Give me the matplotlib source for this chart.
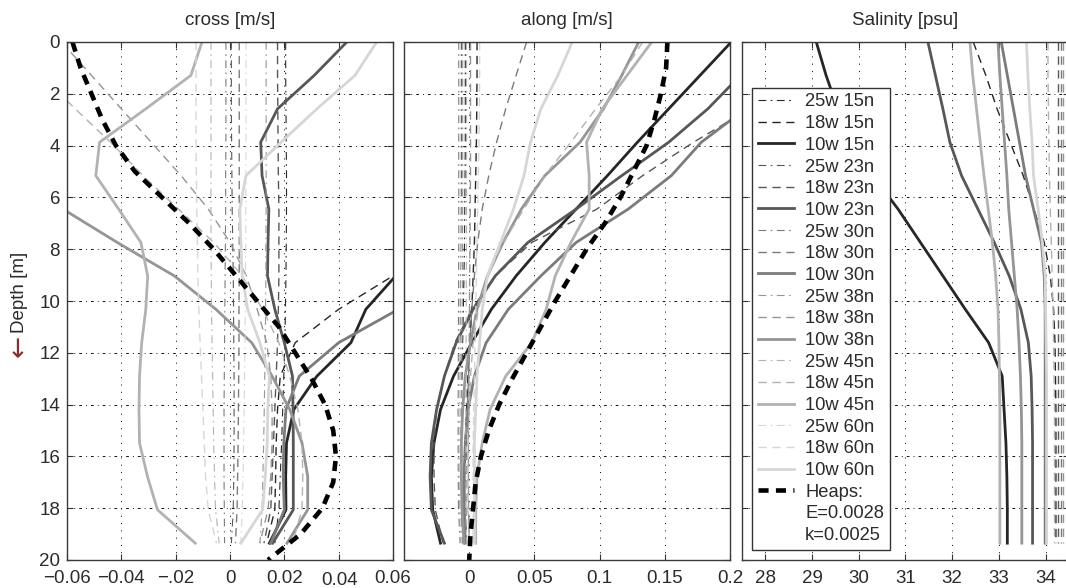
import matplotlib
matplotlib.use("Agg")
import matplotlib.pyplot as plt
from matplotlib.lines import Line2D
from matplotlib.transforms import offset_copy, blended_transform_factory

plt.rcParams['font.family'] = ['Liberation Sans', 'DejaVu Sans']

# ---------------------------------------------------------------- data
# model levels (m) shared by all station profiles
DEPTH = [0.0, 1.29, 2.58, 3.87, 5.16, 6.45, 7.74, 9.03, 10.32, 11.61,
         12.9, 14.19, 15.48, 16.77, 18.06, 19.35]

STATIONS = ["25w 15n", "18w 15n", "10w 15n",
            "25w 23n", "18w 23n", "10w 23n",
            "25w 30n", "18w 30n", "10w 30n",
            "25w 38n", "18w 38n", "10w 38n",
            "25w 45n", "18w 45n", "10w 45n",
            "25w 60n", "18w 60n", "10w 60n"]

# cross-shore velocity [m/s]
CROSS_25W15N = [0.0205, 0.0205, 0.0206, 0.0207, 0.0208, 0.0208, 0.0207, 0.0206, 0.0204, 0.0202, 0.0198, 0.0194, 0.019, 0.0185, 0.018, 0.0165]
CROSS_18W15N = [0.13, 0.12, 0.11, 0.10, 0.09, 0.08, 0.07, 0.060, 0.040, 0.024, 0.0185, 0.0175, 0.017, 0.0168, 0.0165, 0.0135]
CROSS_10W15N = [0.16, 0.15, 0.14, 0.13, 0.12, 0.105, 0.085, 0.061, 0.050, 0.0445, 0.032, 0.0235, 0.0208, 0.0205, 0.0206, 0.0145]
CROSS_25W23N = [0.0005, 0.0005, 0.0005, 0.0006, 0.0007, 0.0008, 0.001, 0.0012, 0.0013, 0.0014, 0.0015, 0.0015, 0.0015, 0.0014, 0.0012, 0.0005]
CROSS_18W23N = [0.0175, 0.0175, 0.0176, 0.0177, 0.0178, 0.018, 0.018, 0.018, 0.0178, 0.0175, 0.017, 0.0165, 0.016, 0.0155, 0.015, 0.0125]
CROSS_10W23N = [0.043, 0.031, 0.0175, 0.0113, 0.0118, 0.0143, 0.014, 0.0138, 0.0165, 0.020, 0.023, 0.0232, 0.0233, 0.0233, 0.0233, 0.0157]
CROSS_25W30N = [-0.0015, -0.0015, -0.0015, -0.0015, -0.0016, -0.0016, -0.0017, -0.0018, -0.0019, -0.002, -0.0021, -0.0022, -0.0022, -0.0022, -0.0021, -0.002]
CROSS_18W30N = [0.0034, 0.0034, 0.0034, 0.0034, 0.0034, 0.0034, 0.0034, 0.0034, 0.0033, 0.0033, 0.0032, 0.0031, 0.003, 0.0028, 0.0026, 0.002]
CROSS_10W30N = [0.20, 0.18, 0.16, 0.14, 0.12, 0.11, 0.095, 0.078, 0.062, 0.040, 0.0255, 0.0206, 0.0198, 0.0196, 0.020, 0.015]
CROSS_25W38N = [0.0133, 0.0133, 0.0133, 0.0133, 0.0133, 0.0133, 0.0132, 0.0132, 0.0131, 0.013, 0.0128, 0.0126, 0.0124, 0.0121, 0.0118, 0.011]
CROSS_18W38N = [-0.062, -0.051, -0.040, -0.029, -0.018, -0.008, 0.0, 0.006, 0.010, 0.0135, 0.015, 0.0155, 0.0155, 0.015, 0.014, 0.011]
CROSS_10W38N = [-0.16, -0.14, -0.12, -0.10, -0.082, -0.0615, -0.0415, -0.0205, -0.0052, 0.008, 0.0155, 0.022, 0.0265, 0.0286, 0.0286, 0.021]
CROSS_25W45N = [-0.007, -0.007, -0.007, -0.007, -0.007, -0.007, -0.007, -0.0069, -0.0068, -0.0066, -0.0064, -0.0062, -0.006, -0.0057, -0.0053, -0.004]
CROSS_18W45N = [-0.082, -0.0695, -0.057, -0.044, -0.032, -0.019, -0.006, 0.0045, 0.012, 0.018, 0.022, 0.025, 0.0265, 0.0268, 0.0265, 0.023]
CROSS_10W45N = [-0.0103, -0.0144, -0.031, -0.048, -0.0494, -0.041, -0.0328, -0.0303, -0.031, -0.0325, -0.0333, -0.0335, -0.0333, -0.0304, -0.0267, -0.0128]
CROSS_25W60N = [0.0059, 0.0059, 0.0059, 0.0059, 0.0059, 0.0058, 0.0058, 0.0057, 0.0056, 0.0055, 0.0054, 0.0052, 0.005, 0.0048, 0.0045, 0.004]
CROSS_18W60N = [-0.0125, -0.0125, -0.0125, -0.0125, -0.0124, -0.0122, -0.012, -0.0118, -0.0115, -0.011, -0.0105, -0.010, -0.0095, -0.009, -0.008, -0.005]
CROSS_10W60N = [0.054, 0.046, 0.032, 0.0188, 0.0059, 0.0036, 0.004, 0.0045, 0.0065, 0.011, 0.0145, 0.0139, 0.0137, 0.013, 0.012, 0.004]

# along-shore velocity [m/s]
ALONG_25W15N = [-0.003, -0.003, -0.003, -0.003, -0.0032, -0.0034, -0.0036, -0.004, -0.0045, -0.005, -0.0055, -0.006, -0.0062, -0.0062, -0.006, -0.005]
ALONG_18W15N = [0.006, 0.006, 0.0058, 0.0055, 0.005, 0.0045, 0.004, 0.003, 0.002, 0.0005, -0.001, -0.002, -0.003, -0.0035, -0.0035, -0.003]
ALONG_10W15N = [0.201, 0.177, 0.153, 0.129, 0.106, 0.082, 0.058, 0.036, 0.017, 0.002, -0.012, -0.022, -0.027, -0.029, -0.028, -0.022]
ALONG_25W23N = [-0.006, -0.006, -0.006, -0.006, -0.006, -0.0062, -0.0064, -0.0066, -0.0068, -0.007, -0.0072, -0.0074, -0.0075, -0.0075, -0.0072, -0.006]
ALONG_18W23N = [0.27, 0.245, 0.215, 0.172, 0.133, 0.098, 0.048, 0.020, 0.002, -0.011, -0.019, -0.025, -0.027, -0.027, -0.026, -0.020]
ALONG_10W23N = [0.235, 0.208, 0.183, 0.153, 0.117, 0.082, 0.045, 0.020, 0.003, -0.010, -0.019, -0.025, -0.029, -0.030, -0.029, -0.019]
ALONG_25W30N = [-0.008, -0.008, -0.008, -0.008, -0.008, -0.008, -0.008, -0.0081, -0.0082, -0.0083, -0.0084, -0.0085, -0.0085, -0.0084, -0.0082, -0.007]
ALONG_18W30N = [0.044, 0.036, 0.028, 0.021, 0.015, 0.010, 0.0065, 0.004, 0.002, 0.0005, -0.0005, -0.0015, -0.002, -0.0025, -0.0025, -0.002]
ALONG_10W30N = [0.29, 0.255, 0.212, 0.178, 0.155, 0.122, 0.082, 0.055, 0.030, 0.013, 0.004, -0.001, -0.003, -0.004, -0.004, -0.003]
ALONG_25W38N = [-0.005, -0.005, -0.005, -0.005, -0.005, -0.005, -0.0051, -0.0052, -0.0054, -0.0056, -0.0058, -0.006, -0.006, -0.006, -0.0058, -0.005]
ALONG_18W38N = [0.001, 0.001, 0.001, 0.001, 0.001, 0.0008, 0.0006, 0.0004, 0.0002, 0.0, -0.0002, -0.0004, -0.0006, -0.0006, -0.0005, 0.0]
ALONG_10W38N = [0.130, 0.117, 0.103, 0.085, 0.058, 0.040, 0.026, 0.014, 0.006, 0.001, -0.003, -0.005, -0.006, -0.006, -0.0055, -0.004]
ALONG_25W45N = [-0.002, -0.002, -0.002, -0.002, -0.002, -0.002, -0.0021, -0.0022, -0.0023, -0.0024, -0.0025, -0.0026, -0.0026, -0.0025, -0.0024, -0.002]
ALONG_18W45N = [0.133, 0.117, 0.097, 0.078, 0.058, 0.042, 0.026, 0.014, 0.007, 0.003, 0.001, 0.0, -0.001, -0.001, -0.001, 0.0]
ALONG_10W45N = [0.140, 0.121, 0.102, 0.090, 0.092, 0.092, 0.078, 0.066, 0.059, 0.048, 0.028, 0.016, 0.010, 0.006, 0.005, 0.005]
ALONG_25W60N = [-0.007, -0.007, -0.007, -0.007, -0.007, -0.007, -0.007, -0.007, -0.0071, -0.0072, -0.0073, -0.0074, -0.0074, -0.0073, -0.0071, -0.006]
ALONG_18W60N = [0.008, 0.008, 0.0078, 0.0075, 0.007, 0.0065, 0.006, 0.0055, 0.005, 0.0045, 0.004, 0.0035, 0.003, 0.003, 0.003, 0.003]
ALONG_10W60N = [0.079, 0.068, 0.055, 0.047, 0.042, 0.034, 0.024, 0.014, 0.010, 0.008, 0.006, 0.005, 0.004, 0.004, 0.004, 0.004]

# salinity [psu]
SAL_25W15N = [34.45, 34.45, 34.45, 34.45, 34.45, 34.45, 34.45, 34.45, 34.45, 34.45, 34.45, 34.45, 34.45, 34.45, 34.45, 34.45]
SAL_18W15N = [32.45, 32.72, 32.96, 33.24, 33.52, 33.75, 33.97, 34.10, 34.17, 34.20, 34.21, 34.22, 34.22, 34.22, 34.22, 34.22]
SAL_10W15N = [29.09, 29.30, 29.55, 29.87, 30.30, 30.84, 31.32, 31.80, 32.28, 32.78, 33.07, 33.11, 33.15, 33.17, 33.18, 33.18]
SAL_25W23N = [34.60, 34.60, 34.60, 34.60, 34.60, 34.60, 34.60, 34.60, 34.60, 34.60, 34.60, 34.60, 34.60, 34.60, 34.60, 34.60]
SAL_18W23N = [34.27, 34.27, 34.27, 34.27, 34.27, 34.27, 34.27, 34.27, 34.27, 34.27, 34.27, 34.27, 34.27, 34.27, 34.27, 34.27]
SAL_10W23N = [31.48, 31.64, 31.80, 31.95, 32.20, 32.55, 32.90, 33.22, 33.47, 33.63, 33.69, 33.71, 33.72, 33.72, 33.72, 33.72]
SAL_25W30N = [34.70, 34.70, 34.70, 34.70, 34.70, 34.70, 34.70, 34.70, 34.70, 34.70, 34.70, 34.70, 34.70, 34.70, 34.70, 34.70]
SAL_18W30N = [34.32, 34.32, 34.32, 34.32, 34.32, 34.32, 34.32, 34.32, 34.32, 34.32, 34.32, 34.32, 34.32, 34.32, 34.32, 34.32]
SAL_10W30N = [33.05, 33.18, 33.31, 33.44, 33.57, 33.74, 33.91, 33.97, 33.99, 33.99, 33.99, 33.99, 33.99, 33.99, 33.99, 33.99]
SAL_25W38N = [34.80, 34.80, 34.80, 34.80, 34.80, 34.80, 34.80, 34.80, 34.80, 34.80, 34.80, 34.80, 34.80, 34.80, 34.80, 34.80]
SAL_18W38N = [34.38, 34.38, 34.38, 34.38, 34.38, 34.38, 34.38, 34.38, 34.38, 34.38, 34.38, 34.38, 34.38, 34.38, 34.38, 34.38]
SAL_10W38N = [32.98, 33.02, 33.07, 33.12, 33.17, 33.21, 33.27, 33.33, 33.39, 33.43, 33.46, 33.48, 33.49, 33.49, 33.49, 33.49]
SAL_25W45N = [34.90, 34.90, 34.90, 34.90, 34.90, 34.90, 34.90, 34.90, 34.90, 34.90, 34.90, 34.90, 34.90, 34.90, 34.90, 34.90]
SAL_18W45N = [34.05, 34.05, 34.06, 34.07, 34.08, 34.10, 34.12, 34.14, 34.16, 34.17, 34.18, 34.19, 34.19, 34.19, 34.19, 34.19]
SAL_10W45N = [32.38, 32.44, 32.52, 32.60, 32.68, 32.77, 32.86, 32.93, 32.98, 33.00, 33.01, 33.02, 33.02, 33.02, 33.02, 33.02]
SAL_25W60N = [35.00, 35.00, 35.00, 35.00, 35.00, 35.00, 35.00, 35.00, 35.00, 35.00, 35.00, 35.00, 35.00, 35.00, 35.00, 35.00]
SAL_18W60N = [34.45, 34.45, 34.45, 34.45, 34.45, 34.45, 34.45, 34.45, 34.45, 34.45, 34.45, 34.45, 34.45, 34.45, 34.45, 34.45]
SAL_10W60N = [33.59, 33.62, 33.66, 33.71, 33.74, 33.84, 33.93, 33.99, 34.00, 34.01, 34.02, 34.02, 34.02, 34.02, 34.02, 34.02]

# analytic Heaps profile (E=0.0028, k=0.0025)
HEAPS_DEPTH = [0, 1, 2, 3, 4, 5, 6, 7, 8, 9, 10, 11, 12, 13, 14, 15, 16, 17, 18, 19, 20]
HEAPS_CROSS = [-0.058, -0.055, -0.051, -0.047, -0.042, -0.035, -0.025, -0.015, -0.006, 0.002,
               0.010, 0.018, 0.024, 0.030, 0.035, 0.038, 0.039, 0.038, 0.034, 0.026, 0.014]
HEAPS_ALONG = [0.152, 0.151, 0.147, 0.142, 0.136, 0.126, 0.116, 0.104, 0.090, 0.078,
               0.066, 0.055, 0.044, 0.033, 0.023, 0.015, 0.009, 0.005, 0.003, 0.001, 0.0]

CROSS_TICKS = [-0.06, -0.04, -0.02, 0, 0.02, 0.04, 0.06]
CROSS_TICKLABELS = ["\u22120.06", "\u22120.04", "\u2212.02", "0", "0.02", "", "0.06"]
ALONG_TICKS = [0, 0.05, 0.1, 0.15, 0.2]
ALONG_TICKLABELS = ["0", "0.05", "0.1", "0.15", "0.2"]
SAL_TICKS = [28, 29, 30, 31, 32, 33, 34]
DEPTH_TICKS = [0, 2, 4, 6, 8, 10, 12, 14, 16, 18, 20]

CROSS = [CROSS_25W15N, CROSS_18W15N, CROSS_10W15N, CROSS_25W23N, CROSS_18W23N, CROSS_10W23N,
         CROSS_25W30N, CROSS_18W30N, CROSS_10W30N, CROSS_25W38N, CROSS_18W38N, CROSS_10W38N,
         CROSS_25W45N, CROSS_18W45N, CROSS_10W45N, CROSS_25W60N, CROSS_18W60N, CROSS_10W60N]
ALONG = [ALONG_25W15N, ALONG_18W15N, ALONG_10W15N, ALONG_25W23N, ALONG_18W23N, ALONG_10W23N,
         ALONG_25W30N, ALONG_18W30N, ALONG_10W30N, ALONG_25W38N, ALONG_18W38N, ALONG_10W38N,
         ALONG_25W45N, ALONG_18W45N, ALONG_10W45N, ALONG_25W60N, ALONG_18W60N, ALONG_10W60N]
SAL = [SAL_25W15N, SAL_18W15N, SAL_10W15N, SAL_25W23N, SAL_18W23N, SAL_10W23N,
       SAL_25W30N, SAL_18W30N, SAL_10W30N, SAL_25W38N, SAL_18W38N, SAL_10W38N,
       SAL_25W45N, SAL_18W45N, SAL_10W45N, SAL_25W60N, SAL_18W60N, SAL_10W60N]

# ---------------------------------------------------------------- styles
LAT_GRAY = {"15n": "#262626", "23n": "#575757", "30n": "#7b7b7b",
            "38n": "#959595", "45n": "#b2b2b2", "60n": "#d6d6d6"}
LON_STYLE = {"25w": dict(linestyle=(0, (7, 4, 1.5, 4)), linewidth=0.8),
             "18w": dict(linestyle=(0, (6, 4)), linewidth=1.0),
             "10w": dict(linestyle="-", linewidth=2.0)}
HEAPS_STYLE = dict(color="black", linewidth=3.3, linestyle=(0, (2.2, 1.6)))

TXT = "#2b2b2b"
FS = 13.5
LEG_FS = 13.2

def style_for(name):
    lon, lat = name.split()
    st = dict(LON_STYLE[lon])
    st["color"] = LAT_GRAY[lat]
    return st

# ---------------------------------------------------------------- figure
W, H = 1066, 588
fig = plt.figure(figsize=(W / 100, H / 100), dpi=100)

def px_axes(x0, x1, y0=42, y1=560):
    return fig.add_axes([x0 / W, 1 - y1 / H, (x1 - x0) / W, (y1 - y0) / H])

ax1 = px_axes(67, 393)
ax2 = px_axes(404, 730)
ax3 = px_axes(742, 1069)

for ax, series in ((ax1, CROSS), (ax2, ALONG), (ax3, SAL)):
    for name, vals in zip(STATIONS, series):
        ax.plot(vals, DEPTH, label=name, **style_for(name))

ax1.plot(HEAPS_CROSS, HEAPS_DEPTH, label="Heaps:", **HEAPS_STYLE)
ax2.plot(HEAPS_ALONG, HEAPS_DEPTH, **HEAPS_STYLE)

ax1.set_xlim(-0.06, 0.06)
ax2.set_xlim(-0.05, 0.2)
ax3.set_xlim(27.5, 34.5)

for ax in (ax1, ax2, ax3):
    ax.set_ylim(20, 0)
    ax.set_yticks(DEPTH_TICKS)
    ax.set_axisbelow(True)
    ax.xaxis.grid(True, linestyle=(0, (1, 6.5)), color="black", linewidth=0.7)
    ax.yaxis.grid(True, linestyle=(0, (3, 4.5, 1, 4.5)), color="black", linewidth=0.65)
    ax.tick_params(direction="in", length=4, width=0.8, top=True, right=True,
                   colors="#333333", labelcolor=TXT, labelsize=FS)
    ax.tick_params(axis="x", pad=7)
    ax.tick_params(axis="y", pad=5)
    for sp in ax.spines.values():
        sp.set_color("#3a3a3a")
        sp.set_linewidth(1.0)

ax1.set_xticks(CROSS_TICKS)
ax1.set_xticklabels(CROSS_TICKLABELS)
ax1.set_yticklabels([str(d) for d in DEPTH_TICKS])
trans = offset_copy(blended_transform_factory(ax1.transData, ax1.transAxes),
                    fig=fig, x=1, y=-8.5, units="points")
ax1.text(0.04, 0, "0.04", transform=trans, ha="center", va="top",
         fontsize=FS, color=TXT)

ax2.set_xticks(ALONG_TICKS)
ax2.set_xticklabels(ALONG_TICKLABELS)
ax2.set_yticklabels([])

ax3.set_xticks(SAL_TICKS)
ax3.set_xticklabels([str(t) for t in SAL_TICKS])
ax3.set_yticklabels([])

ax1.set_title("cross [m/s]", fontsize=FS, color=TXT, pad=12)
ax2.set_title("along [m/s]", fontsize=FS, color=TXT, pad=12)
ax3.set_title("Salinity [psu]", fontsize=FS, color=TXT, pad=12)

fig.text(19 / W, 1 - 333 / H, "Depth [m]", rotation=90, ha="center", va="bottom",
         fontsize=FS, color=TXT)
fig.text(19 / W, 1 - 335 / H, "\u2190", rotation=90, ha="center", va="top",
         fontsize=19, color="#8b2a2a", family="DejaVu Sans")

# legend: station lines, the Heaps line, then its parameters as plain rows
handles, labels = ax1.get_legend_handles_labels()
blank = Line2D([], [], color="none")
handles += [blank, blank]
labels += ["E=0.0028", "k=0.0025"]
leg = ax3.legend(handles, labels, loc="upper left",
                 bbox_to_anchor=(10 / 327, (560 - 88) / 518),
                 borderaxespad=0, fontsize=LEG_FS, handlelength=2.0,
                 handletextpad=0.6, labelspacing=0.255, borderpad=0.3,
                 fancybox=False, framealpha=1, edgecolor="#333333")
leg.get_frame().set_linewidth(1.0)
for t in leg.get_texts():
    t.set_color(TXT)

fig.savefig("out.png", dpi=100)
